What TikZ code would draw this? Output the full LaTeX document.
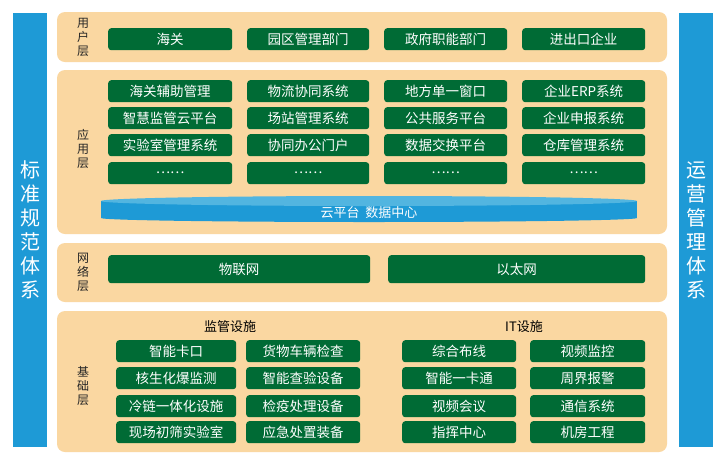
\documentclass[tikz,border=0pt]{standalone}
\usepackage{fontspec}
\setmainfont{Noto Sans CJK SC}
\begin{document}
\begin{tikzpicture}[x=1pt,y=-1pt]
\definecolor{gr}{HTML}{006B35}
\definecolor{pe}{HTML}{FAD7A1}
\definecolor{bl}{HTML}{1E9AD6}
\definecolor{blt}{HTML}{52B5E0}
\tikzset{
 panel/.style={fill=pe,rounded corners=8pt,draw=none},
 gbox/.style={fill=gr,rounded corners=3pt,text=white,font=\fontsize{13.5}{15}\selectfont,inner sep=0pt,anchor=north west},
 vlab/.style={font=\fontsize{12}{14}\selectfont,text=black!85,align=center},
 bigv/.style={font=\fontsize{20}{24}\selectfont,text=white,align=center}
}
\useasboundingbox (0,0) rectangle (721,459);
\fill[white] (0,0) rectangle (721,459);
% side bars
\fill[bl] (13,13) rectangle (47,447);
\fill[bl] (679,13) rectangle (713,447);
\node[bigv] (lstd) at (30,230) {标\\准\\规\\范\\体\\系};
\node[bigv] (rops) at (696,230) {运\\营\\管\\理\\体\\系};
% panels
\fill[panel] (57,12) rectangle (667,62);
\fill[panel] (57,70) rectangle (667,234);
\fill[panel] (57,243) rectangle (667,302);
\fill[panel] (57,311) rectangle (667,452);
\node[vlab] (l1) at (83,37) {用\\户\\层};
\node[vlab] (l2) at (83,149) {应\\用\\层};
\node[vlab] (l3) at (83,272) {网\\络\\层};
\node[vlab] (l4) at (83,386) {基\\础\\层};
\newcommand{\gb}[6]{\node[gbox,minimum width=#3,minimum height=#4] (#5) at (#1,#2) {#6};}
\gb{108}{28}{124pt}{22pt}{u1}{海关}
\gb{247}{28}{122pt}{22pt}{u2}{园区管理部门}
\gb{384}{28}{123pt}{22pt}{u3}{政府职能部门}
\gb{522}{28}{123pt}{22pt}{u4}{进出口企业}
\gb{108}{80}{124pt}{22pt}{a11}{海关辅助管理}
\gb{247}{80}{122pt}{22pt}{a12}{物流协同系统}
\gb{384}{80}{123pt}{22pt}{a13}{地方单一窗口}
\gb{522}{80}{123pt}{22pt}{a14}{企业ERP系统}
\gb{108}{107}{124pt}{22pt}{a21}{智慧监管云平台}
\gb{247}{107}{122pt}{22pt}{a22}{场站管理系统}
\gb{384}{107}{123pt}{22pt}{a23}{公共服务平台}
\gb{522}{107}{123pt}{22pt}{a24}{企业申报系统}
\gb{108}{134}{124pt}{22pt}{a31}{实验室管理系统}
\gb{247}{134}{122pt}{22pt}{a32}{协同办公门户}
\gb{384}{134}{123pt}{22pt}{a33}{数据交换平台}
\gb{522}{134}{123pt}{22pt}{a34}{仓库管理系统}
\gb{108}{162}{124pt}{22pt}{a41}{……}
\gb{247}{162}{122pt}{22pt}{a42}{……}
\gb{384}{162}{123pt}{22pt}{a43}{……}
\gb{522}{162}{123pt}{22pt}{a44}{……}
% cloud disk
\fill[bl] (101,201) rectangle (637,218);
\fill[bl] (369,218) ellipse (268 and 4);
\fill[blt] (369,201) ellipse (268 and 5);
\node[text=white,font=\fontsize{13}{15}\selectfont] (cloud) at (369,213) {云平台\ \ 数据中心};
\gb{108}{255}{262pt}{28pt}{n1}{物联网}
\gb{388}{255}{257pt}{28pt}{n2}{以太网}
\node[font=\fontsize{13}{15}\selectfont] (h1) at (230,327) {监管设施};
\node[font=\fontsize{13}{15}\selectfont] (h2) at (524,327) {IT设施};
\gb{116}{340}{120pt}{22pt}{b11}{智能卡口}
\gb{246}{340}{114pt}{22pt}{b12}{货物车辆检查}
\gb{116}{367}{120pt}{22pt}{b21}{核生化爆监测}
\gb{246}{367}{114pt}{22pt}{b22}{智能查验设备}
\gb{116}{395}{120pt}{22pt}{b31}{冷链一体化设施}
\gb{246}{395}{114pt}{22pt}{b32}{检疫处理设备}
\gb{116}{421}{120pt}{22pt}{b41}{现场初筛实验室}
\gb{246}{421}{114pt}{22pt}{b42}{应急处置装备}
\gb{402}{340}{114pt}{22pt}{c11}{综合布线}
\gb{530}{340}{115pt}{22pt}{c12}{视频监控}
\gb{402}{367}{114pt}{22pt}{c21}{智能一卡通}
\gb{530}{367}{115pt}{22pt}{c22}{周界报警}
\gb{402}{395}{114pt}{22pt}{c31}{视频会议}
\gb{530}{395}{115pt}{22pt}{c32}{通信系统}
\gb{402}{421}{114pt}{22pt}{c41}{指挥中心}
\gb{530}{421}{115pt}{22pt}{c42}{机房工程}
\end{tikzpicture}
\end{document}
